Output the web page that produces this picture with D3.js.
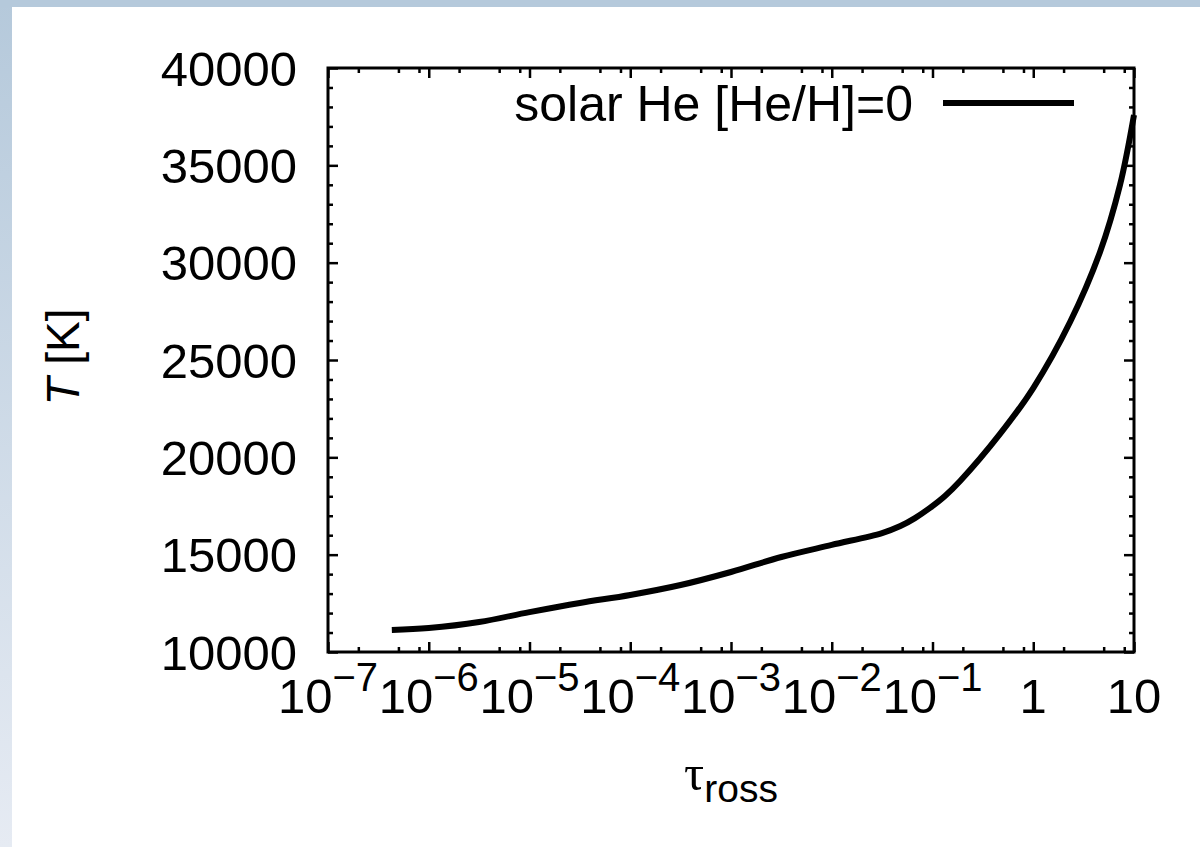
<!DOCTYPE html>
<html>
<head>
<meta charset="utf-8">
<script src="https://cdn.jsdelivr.net/npm/d3@7"></script>
<style>
  body { margin: 0; background: #fff; }
  svg { display: block; }
  text { font-family: "Liberation Sans", Arial, sans-serif; fill: #000; }
</style>
</head>
<body>
<div id="chart"></div>
<script>
// rosseland optical depth and temperature
var tau = [4.3e-7, 1e-6, 3.16e-6, 1e-5, 3.16e-5, 1e-4, 3.16e-4, 1e-3, 3.16e-3, 1e-2,
           3.16e-2, 4.8e-2, 6.7e-2, 9.44e-2, 0.133, 0.188, 0.468, 1,
           2.32, 4.6, 7.26, 10];
var temp = [11130, 11230, 11540, 12050, 12520, 12930, 13440, 14110, 14880, 15500,
            16110, 16470, 16880, 17400, 18010, 18780, 21200, 23560,
            26950, 30550, 33990, 37590];
var xTickExp = [-7, -6, -5, -4, -3, -2, -1, 0, 1];
var yTicks = [10000, 15000, 20000, 25000, 30000, 35000, 40000];
var legendLabel = "solar He [He/H]=0";

var W = 1200, H = 847;
var margin = {left: 328, right: 66, top: 68, bottom: 195};
var pw = W - margin.left - margin.right,
    ph = H - margin.top - margin.bottom;

var svg = d3.select("#chart").append("svg")
    .attr("width", W).attr("height", H);

// slide-like frame on the left and top
var defs = svg.append("defs");
var grad = defs.append("linearGradient").attr("id", "side")
    .attr("x1", 0).attr("y1", 0).attr("x2", 0).attr("y2", 1);
grad.append("stop").attr("offset", "0%").attr("stop-color", "#b5c9db");
grad.append("stop").attr("offset", "100%").attr("stop-color", "#e6ebf3");
svg.append("rect").attr("x", 0).attr("y", 0).attr("width", 12).attr("height", H).attr("fill", "url(#side)");
svg.append("rect").attr("x", 0).attr("y", 0).attr("width", W).attr("height", 7).attr("fill", "#b5c9db");

var g = svg.append("g").attr("transform", "translate(" + margin.left + "," + margin.top + ")");

var x = d3.scaleLog().domain([1e-7, 10]).range([0, pw]);
var y = d3.scaleLinear().domain([10000, 40000]).range([ph, 0]);

var majorX = xTickExp.map(function(e) { return Math.pow(10, e); });
var minorX = [];
xTickExp.slice(0, -1).forEach(function(e) {
    [2, 5, 8].forEach(function(m) { minorX.push(m * Math.pow(10, e)); });
});
var minorY = d3.range(10000, 40001, 1000).filter(function(v) { return v % 5000 !== 0; });

function tickLines(axis) {
    return function(sel) {
        sel.call(axis);
        sel.select(".domain").remove();
        sel.selectAll("line").attr("stroke", "#000").attr("stroke-width", 2.5);
        sel.selectAll("text").remove();
    };
}

// major + minor ticks, mirrored on all four sides
g.append("g").attr("transform", "translate(0," + ph + ")")
    .call(tickLines(d3.axisBottom(x).tickValues(majorX).tickSize(-10)));
g.append("g").attr("transform", "translate(0," + ph + ")")
    .call(tickLines(d3.axisBottom(x).tickValues(minorX).tickSize(-5)));
g.append("g").call(tickLines(d3.axisTop(x).tickValues(majorX).tickSize(-10)));
g.append("g").call(tickLines(d3.axisTop(x).tickValues(minorX).tickSize(-5)));
g.append("g").call(tickLines(d3.axisLeft(y).tickValues(yTicks).tickSize(-10)));
g.append("g").call(tickLines(d3.axisLeft(y).tickValues(minorY).tickSize(-5)));
g.append("g").attr("transform", "translate(" + pw + ",0)")
    .call(tickLines(d3.axisRight(y).tickValues(yTicks).tickSize(-10)));
g.append("g").attr("transform", "translate(" + pw + ",0)")
    .call(tickLines(d3.axisRight(y).tickValues(minorY).tickSize(-5)));

g.append("rect").attr("width", pw).attr("height", ph)
    .attr("fill", "none").attr("stroke", "#000").attr("stroke-width", 3);

// y tick labels
g.selectAll(".ylab").data(yTicks).enter().append("text")
    .attr("class", "ylab")
    .attr("x", -31).attr("y", function(d) { return y(d); })
    .attr("dy", "0.36em")
    .attr("text-anchor", "end")
    .style("font-size", "49px")
    .text(function(d) { return d; });

// x tick labels with superscript exponents
var xl = g.selectAll(".xlab").data(xTickExp).enter().append("text")
    .attr("class", "xlab")
    .attr("x", function(e) { return x(Math.pow(10, e)); })
    .attr("y", ph + 61)
    .attr("text-anchor", "middle")
    .style("font-size", "49px");
xl.each(function(e) {
    var t = d3.select(this);
    if (e === 0) { t.text("1"); return; }
    if (e === 1) { t.text("10"); return; }
    t.append("tspan").text("10");
    t.append("tspan").attr("dy", -22).style("font-size", "40px").text("\u2212" + (-e));
});

// curve
var line = d3.line()
    .x(function(d, i) { return x(tau[i]); })
    .y(function(d) { return y(d); })
    .curve(d3.curveCatmullRom.alpha(0.5));
g.append("path").datum(temp)
    .attr("d", line)
    .attr("fill", "none").attr("stroke", "#000").attr("stroke-width", 6)
    .attr("stroke-linejoin", "round");

// legend
g.append("text").attr("x", 913 - margin.left).attr("y", 103 - margin.top)
    .attr("dy", "0.36em").attr("text-anchor", "end")
    .style("font-size", "50px").text(legendLabel);
g.append("line")
    .attr("x1", 943 - margin.left).attr("x2", 1074 - margin.left)
    .attr("y1", 103 - margin.top).attr("y2", 103 - margin.top)
    .attr("stroke", "#000").attr("stroke-width", 6);

// axis titles
var xt = svg.append("text").attr("x", 731).attr("y", 790).attr("text-anchor", "middle");
xt.append("tspan").style("font-family", "'Liberation Serif', serif").style("font-size", "50px").text("\u03c4");
xt.append("tspan").attr("dy", 12).style("font-size", "39px").text("ross");

var yt = svg.append("text")
    .attr("transform", "translate(79,357) rotate(-90)")
    .attr("text-anchor", "middle")
    .style("font-size", "46px");
yt.append("tspan").style("font-style", "italic").text("T");
yt.append("tspan").text(" [K]");
</script>
</body>
</html>
